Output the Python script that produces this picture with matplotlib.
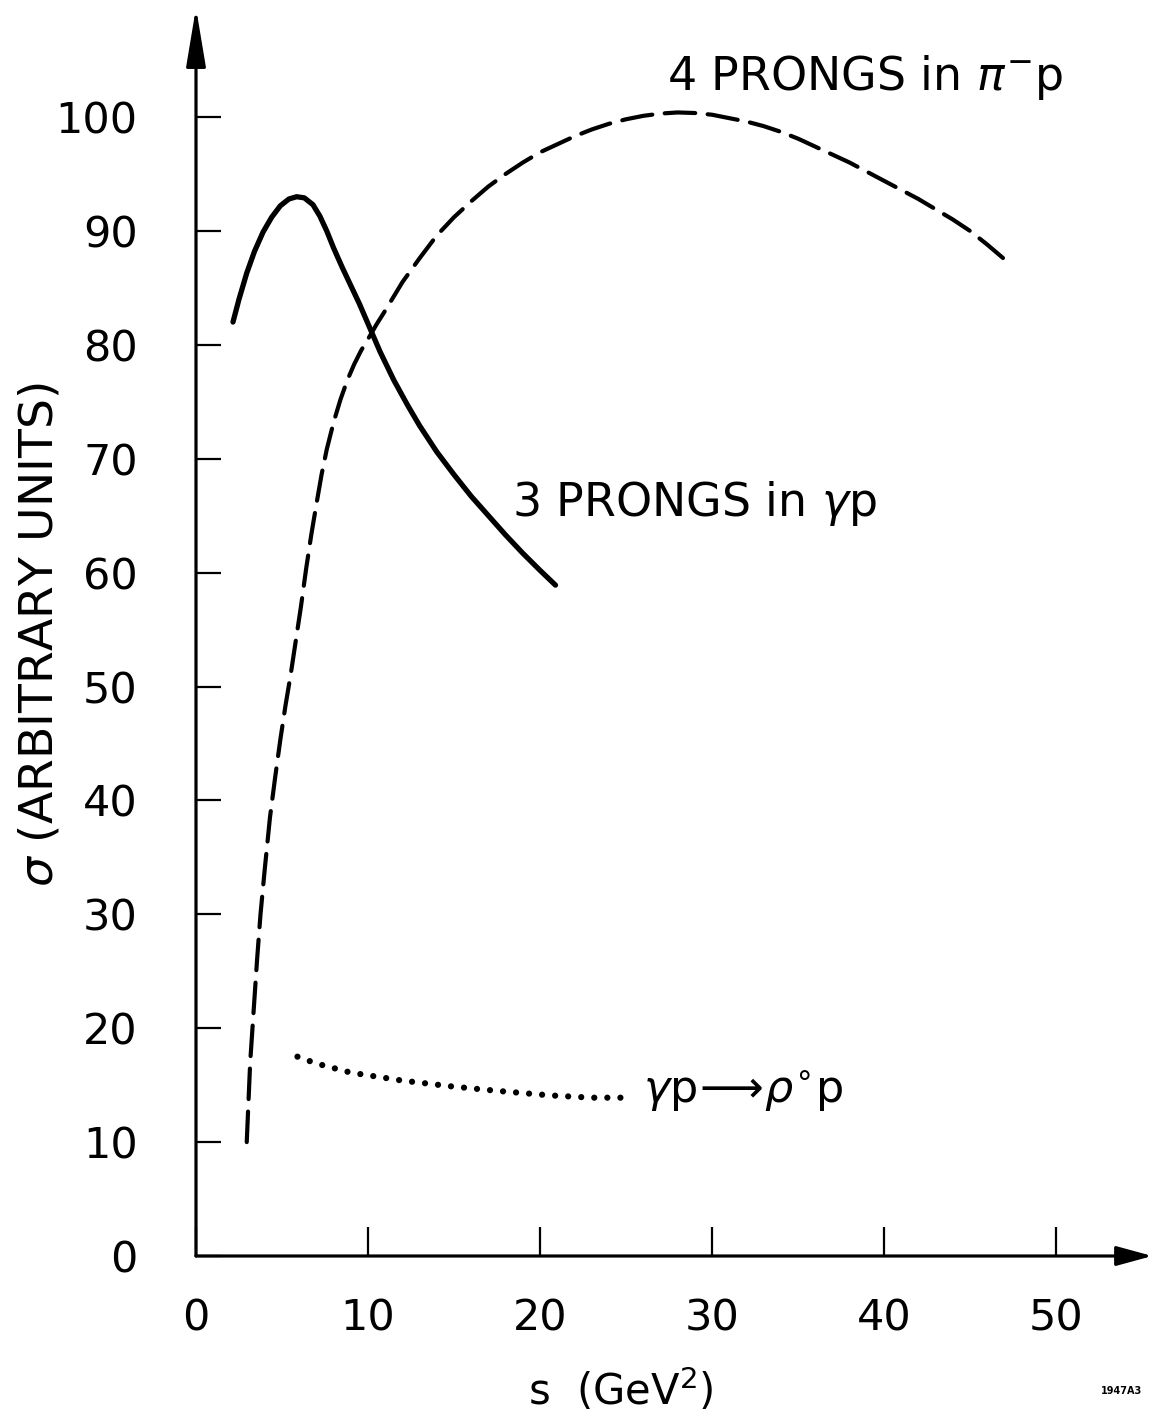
import numpy as np
import matplotlib
matplotlib.use("Agg")
import matplotlib.pyplot as plt

plt.rcParams['font.family'] = ['DejaVu Sans']
plt.rcParams['mathtext.fontset'] = 'dejavusans'
plt.rcParams['lines.scale_dashes'] = False

# values (s in GeV^2, sigma in arbitrary units)
s_3prong = [2.15, 2.5, 2.95, 3.4, 3.9, 4.4, 4.9, 5.4, 5.85, 6.3, 6.8, 7.2, 7.6, 8.0,
            8.5, 9.0, 9.5, 10.1, 10.7, 11.5, 12.3, 13.0, 14.0, 15.0, 16.0, 17.0,
            18.0, 19.0, 20.0, 20.9]
sig_3prong = [82.0, 84.0, 86.3, 88.2, 89.9, 91.2, 92.2, 92.8, 93.0, 92.9, 92.3, 91.3, 90.0, 88.5,
              86.8, 85.2, 83.6, 81.5, 79.4, 76.9, 74.7, 72.9, 70.6, 68.6, 66.7, 65.0,
              63.3, 61.7, 60.2, 58.9]

s_4prong = [2.95, 3.15, 3.35, 3.55, 3.75, 4.0, 4.3, 4.6, 4.9, 5.2, 5.5, 5.8, 6.1, 6.4,
            6.7, 7.0, 7.3, 7.6, 8.0, 8.4, 8.8, 9.2, 9.6, 10.0, 10.5, 11.0, 12.0, 13.0,
            14.0, 15.0, 16.0, 17.0, 18.0, 19.0, 20.0, 21.0, 22.0, 23.0, 24.0, 25.0,
            26.0, 27.0, 28.0, 29.0, 30.0, 31.0, 32.0, 33.0, 34.0, 35.0, 36.0, 37.0,
            38.0, 39.0, 40.0, 41.0, 42.0, 43.0, 44.0, 45.0, 46.0, 47.4]
sig_4prong = [10.0, 17.0, 21.5, 26.0, 30.0, 34.0, 38.5, 42.0, 45.3, 48.3, 51.0, 54.0, 57.0, 60.3,
              63.3, 66.0, 68.6, 70.8, 73.2, 75.2, 76.9, 78.3, 79.5, 80.5, 81.8, 83.0, 85.5, 87.6,
              89.6, 91.2, 92.6, 93.9, 95.0, 96.0, 96.9, 97.6, 98.3, 98.9, 99.4, 99.8,
              100.1, 100.3, 100.4, 100.35, 100.2, 99.9, 99.6, 99.2, 98.7, 98.1, 97.4, 96.7,
              96.0, 95.2, 94.4, 93.6, 92.8, 91.9, 91.0, 90.0, 88.8, 87.0]

s_rho = [5.9, 7.0, 9.0, 12.0, 14.8, 17.5, 20.6, 23.0, 24.9]
sig_rho = [17.5, 16.9, 16.1, 15.4, 14.9, 14.5, 14.1, 13.9, 13.9]

xticks = [0, 10, 20, 30, 40, 50]
yticks = [0, 10, 20, 30, 40, 50, 60, 70, 80, 90, 100]

fig = plt.figure(figsize=(11.56, 14.19), dpi=100)
ax = fig.add_axes([196 / 1156, 163 / 1419, 56 * 17.2 / 1156, 110 * 11.39 / 1419])
ax.set_xlim(0, 56)
ax.set_ylim(0, 110)
for sp in ax.spines.values():
    sp.set_visible(False)

# axes drawn as arrows
ax.annotate('', xy=(0, 109.6), xytext=(0, 0),
            arrowprops=dict(arrowstyle='-|>,head_length=1.8,head_width=0.3',
                            lw=2.3, color='k', mutation_scale=20, shrinkA=0, shrinkB=0),
            annotation_clip=False)
ax.annotate('', xy=(55.6, 0), xytext=(0, 0),
            arrowprops=dict(arrowstyle='-|>,head_length=1.1,head_width=0.3',
                            lw=2.3, color='k', mutation_scale=20, shrinkA=0, shrinkB=0),
            annotation_clip=False)

ax.set_xticks(xticks)
ax.set_xticklabels([str(v) for v in xticks])
ax.set_yticks(yticks)
ax.set_yticklabels([str(v) for v in yticks])
ax.tick_params(axis='x', direction='in', length=21, width=1.6, pad=30, labelsize=31)
ax.tick_params(axis='y', direction='in', length=18, width=1.6, pad=42, labelsize=31)

ax.plot(s_3prong, sig_3prong, color='k', lw=3.8, solid_capstyle='round',
        solid_joinstyle='round')
ax.plot(s_4prong, sig_4prong, color='k', lw=3.0, linestyle=(0, (22, 9)),
        dash_capstyle='round', dash_joinstyle='round')
ax.plot(s_rho, sig_rho, color='k', lw=4.5, linestyle=(0, (0.01, 9.4)),
        dash_capstyle='round')

ax.text(27.4, 102.4, r'4 PRONGS in $\pi^{-}$p', fontsize=33, va='baseline', ha='left')
ax.text(18.4, 65.0, r'3 PRONGS in $\gamma$p', fontsize=33, va='baseline', ha='left')
ax.text(26.0, 13.4, r'$\gamma\mathrm{p}\!\longrightarrow\!\rho^{\circ}\mathrm{p}$', fontsize=32,
        va='baseline', ha='left')

fig.text(0.035, 0.5525, r'$\sigma$ (ARBITRARY UNITS)', rotation=90, fontsize=34,
         ha='center', va='center')
fig.text(0.537, 0.02, r's  (GeV$^{2}$)', fontsize=30, ha='center', va='center')
fig.text(0.9706, 0.02, '1947A3', fontsize=7, fontweight='bold', ha='center', va='center')

fig.savefig('out.png', dpi=100)
